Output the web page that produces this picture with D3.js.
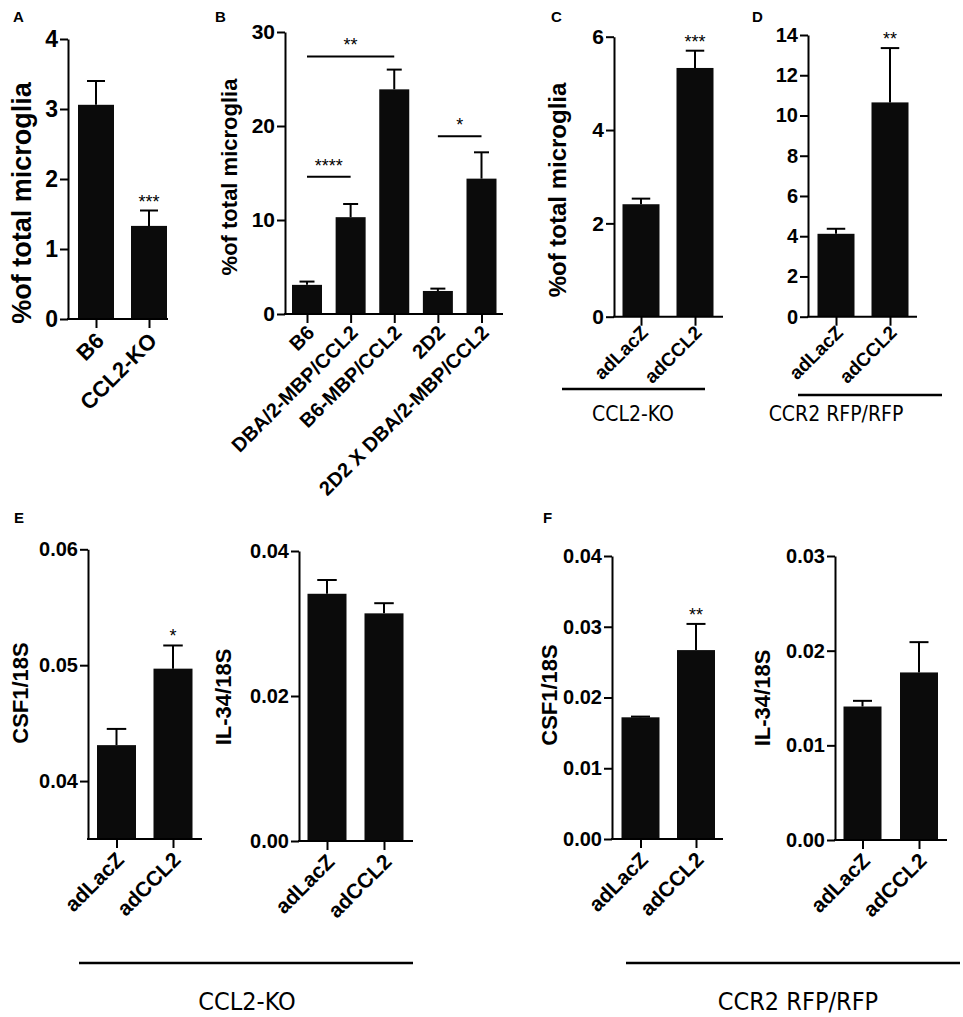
<!DOCTYPE html>
<html>
<head>
<meta charset="utf-8">
<script src="https://cdn.jsdelivr.net/npm/d3@7"></script>
<style>
  body { margin: 0; background: #fff; }
  svg { display: block; }
  text { font-family: "Liberation Sans", Arial, sans-serif; fill: #000; }
  .narrow { font-family: "Liberation Sans Narrow", "DejaVu Sans Condensed", sans-serif; }
</style>
</head>
<body>
<div id="wrapper"></div>
<script>
// ---- data (mean, SEM) ----
const aGroups = ["B6", "CCL2-KO"];
const aMean = [3.06, 1.33];
const aSem = [0.34, 0.22];
const aTicks = [0, 1, 2, 3, 4];

const bGroups = ["B6", "DBA/2-MBP/CCL2", "B6-MBP/CCL2", "2D2", "2D2 X DBA/2-MBP/CCL2"];
const bMean = [3.1, 10.3, 23.9, 2.45, 14.4];
const bSem = [0.35, 1.4, 2.1, 0.25, 2.8];
const bTicks = [0, 10, 20, 30];
// significance brackets: [from index, to index, height, label]
const bBrackets = [[0, 2, 27.4, "**"], [0, 1, 14.6, "****"], [3, 4, 18.9, "*"]];

const adGroups = ["adLacZ", "adCCL2"];

const cMean = [2.41, 5.33];
const cSem = [0.12, 0.37];
const cTicks = [0, 2, 4, 6];

const dMean = [4.12, 10.65];
const dSem = [0.25, 2.7];
const dTicks = [0, 2, 4, 6, 8, 10, 12, 14];

const eCsfMean = [0.0431, 0.0497];
const eCsfSem = [0.0014, 0.0020];
const eCsfTicks = [0.04, 0.05, 0.06];

const eIlMean = [0.0341, 0.0314];
const eIlSem = [0.0019, 0.0014];
const eIlTicks = [0.00, 0.02, 0.04];

const fCsfMean = [0.0172, 0.0267];
const fCsfSem = [0.0001, 0.0037];
const fCsfTicks = [0.00, 0.01, 0.02, 0.03, 0.04];

const fIlMean = [0.0141, 0.0177];
const fIlSem = [0.0006, 0.0032];
const fIlTicks = [0.00, 0.01, 0.02, 0.03];

const Y_MICRO = "%of total microglia";

// ---- layout ----
const width = 963, height = 1017;
const svg = d3.select("#wrapper").append("svg")
  .attr("width", width)
  .attr("height", height);

const panels = [
  { letter: "A", lx: 13, ly: 22, groups: aGroups, mean: aMean, sem: aSem, ticks: aTicks,
    domain: [0, 4], fmt: d3.format("d"), axisX: 68, axisEnd: 168, base: 319, top: 39,
    c0: 96, c1: 149, bw: 36, tickFont: 23, xFont: 22, xDy: 1.05,
    yLabel: Y_MICRO, yFont: 27, yx: 22, yy: 203, stars: [null, "***"] },
  { letter: "B", lx: 215, ly: 22, groups: bGroups, mean: bMean, sem: bSem, ticks: bTicks,
    domain: [0, 30], fmt: d3.format("d"), axisX: 285, axisEnd: 503, base: 314, top: 32,
    c0: 307, c1: 481.5, bw: 30, tickFont: 21, xFont: 20, xDy: 1.0,
    yLabel: Y_MICRO, yFont: 22, yx: 229, yy: 177, brackets: bBrackets },
  { letter: "C", lx: 551, ly: 22, groups: adGroups, mean: cMean, sem: cSem, ticks: cTicks,
    domain: [0, 6], fmt: d3.format("d"), axisX: 614, axisEnd: 723, base: 316.7, top: 36.7,
    c0: 641, c1: 695, bw: 37, tickFont: 21, xFont: 19, xDy: 0.9,
    yLabel: Y_MICRO, yFont: 24, yx: 558, yy: 190, stars: [null, "***"] },
  { letter: "D", lx: 752, ly: 22, groups: adGroups, mean: dMean, sem: dSem, ticks: dTicks,
    domain: [0, 14], fmt: d3.format("d"), axisX: 808, axisEnd: 917, base: 316.7, top: 35,
    c0: 836, c1: 890, bw: 37, tickFont: 20, xFont: 19, xDy: 0.9, stars: [null, "**"] },
  { letter: "E", lx: 14, ly: 523, groups: adGroups, mean: eCsfMean, sem: eCsfSem, ticks: eCsfTicks,
    domain: [0.035, 0.06], fmt: d3.format(".2f"), axisX: 88, axisEnd: 202, base: 839, top: 549.3,
    c0: 116.5, c1: 173, bw: 39, tickFont: 20, xFont: 21, xDy: 1.05,
    yLabel: "CSF1/18S", yFont: 22, yx: 20, yy: 693, stars: [null, "*"] },
  { groups: adGroups, mean: eIlMean, sem: eIlSem, ticks: eIlTicks,
    domain: [0, 0.04], fmt: d3.format(".2f"), axisX: 299, axisEnd: 413, base: 841, top: 551,
    c0: 327, c1: 384, bw: 39, tickFont: 20, xFont: 21, xDy: 1.05,
    yLabel: "IL-34/18S", yFont: 22, yx: 223, yy: 697 },
  { letter: "F", lx: 543, ly: 523, groups: adGroups, mean: fCsfMean, sem: fCsfSem, ticks: fCsfTicks,
    domain: [0, 0.04], fmt: d3.format(".2f"), axisX: 612, axisEnd: 723, base: 839, top: 556,
    c0: 640.5, c1: 696, bw: 38, tickFont: 20, xFont: 21, xDy: 1.05,
    yLabel: "CSF1/18S", yFont: 22, yx: 549, yy: 695, stars: [null, "**"] },
  { groups: adGroups, mean: fIlMean, sem: fIlSem, ticks: fIlTicks,
    domain: [0, 0.03], fmt: d3.format(".2f"), axisX: 835, axisEnd: 947, base: 840, top: 556,
    c0: 862.5, c1: 919, bw: 38, tickFont: 20, xFont: 21, xDy: 1.05,
    yLabel: "IL-34/18S", yFont: 22, yx: 762, yy: 698 }
];

// group underlines below the x labels
const groupLines = [
  { x1: 562, x2: 705, y: 389, label: "CCL2-KO", tx: 633, ty: 421, font: 21 },
  { x1: 798, x2: 942, y: 395, label: "CCR2 RFP/RFP", tx: 836, ty: 421, font: 21 },
  { x1: 79, x2: 413, y: 963, label: "CCL2-KO", tx: 247, ty: 1010, font: 25 },
  { x1: 626, x2: 960, y: 963, label: "CCR2 RFP/RFP", tx: 798, ty: 1010, font: 25 }
];

function drawPanel(p) {
  const g = svg.append("g");

  const yScale = d3.scaleLinear()
    .domain(p.domain)
    .range([p.base, p.top]);

  const xScale = d3.scalePoint()
    .domain(p.groups)
    .range([p.c0, p.c1]);

  const rows = p.groups.map((k, i) => ({ key: k, mean: p.mean[i], sem: p.sem[i], star: p.stars ? p.stars[i] : null }));

  // bars
  g.selectAll("rect.bar")
    .data(rows)
    .join("rect")
    .attr("class", "bar")
    .attr("x", d => xScale(d.key) - p.bw / 2)
    .attr("y", d => yScale(d.mean))
    .attr("width", p.bw)
    .attr("height", d => p.base - yScale(d.mean))
    .attr("fill", "#0b0b0b");

  // error bars (upper only)
  const capW = p.bw * 0.5;
  g.selectAll("line.stem")
    .data(rows)
    .join("line")
    .attr("x1", d => xScale(d.key))
    .attr("x2", d => xScale(d.key))
    .attr("y1", d => yScale(d.mean))
    .attr("y2", d => yScale(d.mean + d.sem))
    .attr("stroke", "#000")
    .attr("stroke-width", 2);
  g.selectAll("line.cap")
    .data(rows)
    .join("line")
    .attr("x1", d => xScale(d.key) - capW / 2)
    .attr("x2", d => xScale(d.key) + capW / 2)
    .attr("y1", d => yScale(d.mean + d.sem))
    .attr("y2", d => yScale(d.mean + d.sem))
    .attr("stroke", "#000")
    .attr("stroke-width", 2);

  // stars above single bars
  g.selectAll("text.star")
    .data(rows.filter(d => d.star))
    .join("text")
    .attr("x", d => xScale(d.key))
    .attr("y", d => yScale(d.mean + d.sem) - 3)
    .attr("text-anchor", "middle")
    .style("font-size", "18px")
    .text(d => d.star);

  // brackets
  if (p.brackets) {
    p.brackets.forEach(([i, j, h, lab]) => {
      const x1 = xScale(p.groups[i]), x2 = xScale(p.groups[j]);
      g.append("line")
        .attr("x1", x1).attr("x2", x2)
        .attr("y1", yScale(h)).attr("y2", yScale(h))
        .attr("stroke", "#000").attr("stroke-width", 2);
      g.append("text")
        .attr("x", (x1 + x2) / 2)
        .attr("y", yScale(h) - 5)
        .attr("text-anchor", "middle")
        .style("font-size", "18px")
        .text(lab);
    });
  }

  // y axis
  const yAxis = g.append("g")
    .attr("transform", `translate(${p.axisX},0)`)
    .call(d3.axisLeft(yScale).tickValues(p.ticks).tickFormat(p.fmt).tickSize(8).tickSizeOuter(0).tickPadding(2));
  yAxis.select(".domain").attr("stroke-width", 2);
  yAxis.selectAll(".tick line").attr("stroke-width", 2);
  yAxis.selectAll(".tick text")
    .style("font-size", p.tickFont + "px")
    .style("font-weight", "bold")
    .attr("font-family", null);

  // x axis: baseline + ticks + rotated labels
  g.append("line")
    .attr("x1", p.axisX - 1).attr("x2", p.axisEnd)
    .attr("y1", p.base).attr("y2", p.base)
    .attr("stroke", "#000").attr("stroke-width", 2);
  const xAxis = g.append("g")
    .attr("transform", `translate(0,${p.base})`)
    .call(d3.axisBottom(xScale).tickSize(9).tickSizeOuter(0));
  xAxis.select(".domain").remove();
  xAxis.selectAll(".tick line").attr("stroke-width", 2);
  xAxis.selectAll(".tick text")
    .attr("font-family", null)
    .attr("x", 0).attr("y", 0).attr("dy", 0)
    .attr("text-anchor", "end")
    .attr("transform", `translate(${p.xFont * 0.4},${p.xFont * p.xDy}) rotate(-45)`)
    .style("font-size", p.xFont + "px")
    .style("font-weight", "bold");

  // y label
  if (p.yLabel) {
    g.append("text")
      .attr("transform", `translate(${p.yx},${p.yy}) rotate(-90)`)
      .attr("text-anchor", "middle")
      .attr("dy", "0.35em")
      .style("font-size", p.yFont + "px")
      .style("font-weight", "bold")
      .text(p.yLabel);
  }

  // panel letter
  if (p.letter) {
    g.append("text")
      .attr("x", p.lx).attr("y", p.ly)
      .style("font-size", "15px")
      .style("font-weight", "bold")
      .text(p.letter);
  }
}

panels.forEach(drawPanel);

const gl = svg.append("g");
gl.selectAll("line")
  .data(groupLines)
  .join("line")
  .attr("x1", d => d.x1).attr("x2", d => d.x2)
  .attr("y1", d => d.y).attr("y2", d => d.y)
  .attr("stroke", "#000").attr("stroke-width", 2.5);
gl.selectAll("text")
  .data(groupLines)
  .join("text")
  .attr("class", "narrow")
  .attr("x", d => d.tx).attr("y", d => d.ty)
  .attr("text-anchor", "middle")
  .style("font-size", d => d.font + "px")
  .text(d => d.label);
</script>
</body>
</html>
